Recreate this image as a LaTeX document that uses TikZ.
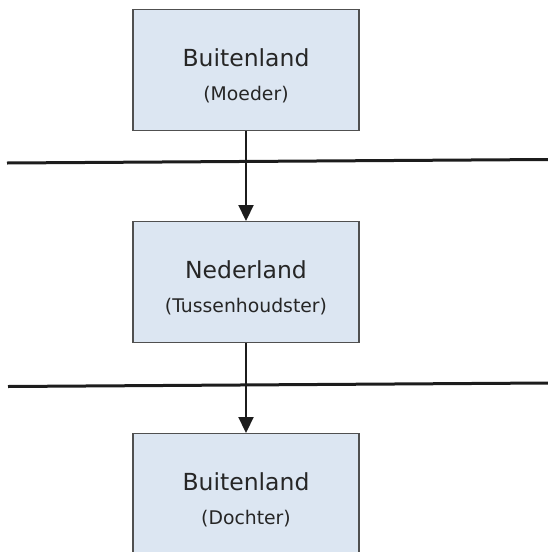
\documentclass[tikz,border=0pt]{standalone}
\usepackage{fontspec}
\setmainfont{DejaVu Sans}
\usetikzlibrary{arrows.meta}
\definecolor{boxfill}{HTML}{DCE6F2}
\definecolor{boxline}{HTML}{505050}
\definecolor{ink}{HTML}{1C1C1C}
\definecolor{txt}{HTML}{262626}
\tikzset{
  entity/.style={draw=boxline, line width=1.4pt, fill=boxfill,
    minimum width=226pt, minimum height=121pt, inner sep=0pt, anchor=north},
  maintext/.style={anchor=base, inner sep=0pt, text=txt,
    font=\fontsize{23.5}{27}\selectfont},
  subtext/.style={anchor=base, inner sep=0pt, text=txt,
    font=\fontsize{18.8}{22}\selectfont},
  border/.style={draw=ink, line width=3pt},
  flow/.style={draw=ink, line width=2.2pt, -{Triangle[width=15pt,length=16pt]}},
}
\begin{document}
\begin{tikzpicture}[x=1pt,y=-1pt]
  \useasboundingbox (0,0) rectangle (548,552);
  % jurisdiction borders
  \coordinate (l1a) at (7,163);
  \coordinate (l1b) at (548,159.5);
  \coordinate (l2a) at (8,386.5);
  \coordinate (l2b) at (548,383);
  \draw[border] (l1a) -- (l1b);
  \draw[border] (l2a) -- (l2b);
  % entities
  \node[entity] (moeder) at (246,9) {};
  \node[entity] (tussen) at (246,221) {};
  \node[entity] (dochter) at (246,433) {};
  \node[maintext] (moederT) at (246,66.5) {Buitenland};
  \node[subtext] (moederS) at (246,100.5) {(Moeder)};
  \node[maintext] (tussenT) at (246,278.5) {Nederland};
  \node[subtext] (tussenS) at (246,312.5) {(Tussenhoudster)};
  \node[maintext] (dochterT) at (246,490.5) {Buitenland};
  \node[subtext] (dochterS) at (246,524.5) {(Dochter)};
  % ownership arrows
  \draw[flow] (moeder.south) -- (tussen.north);
  \draw[flow] (tussen.south) -- (dochter.north);
\end{tikzpicture}
\end{document}
